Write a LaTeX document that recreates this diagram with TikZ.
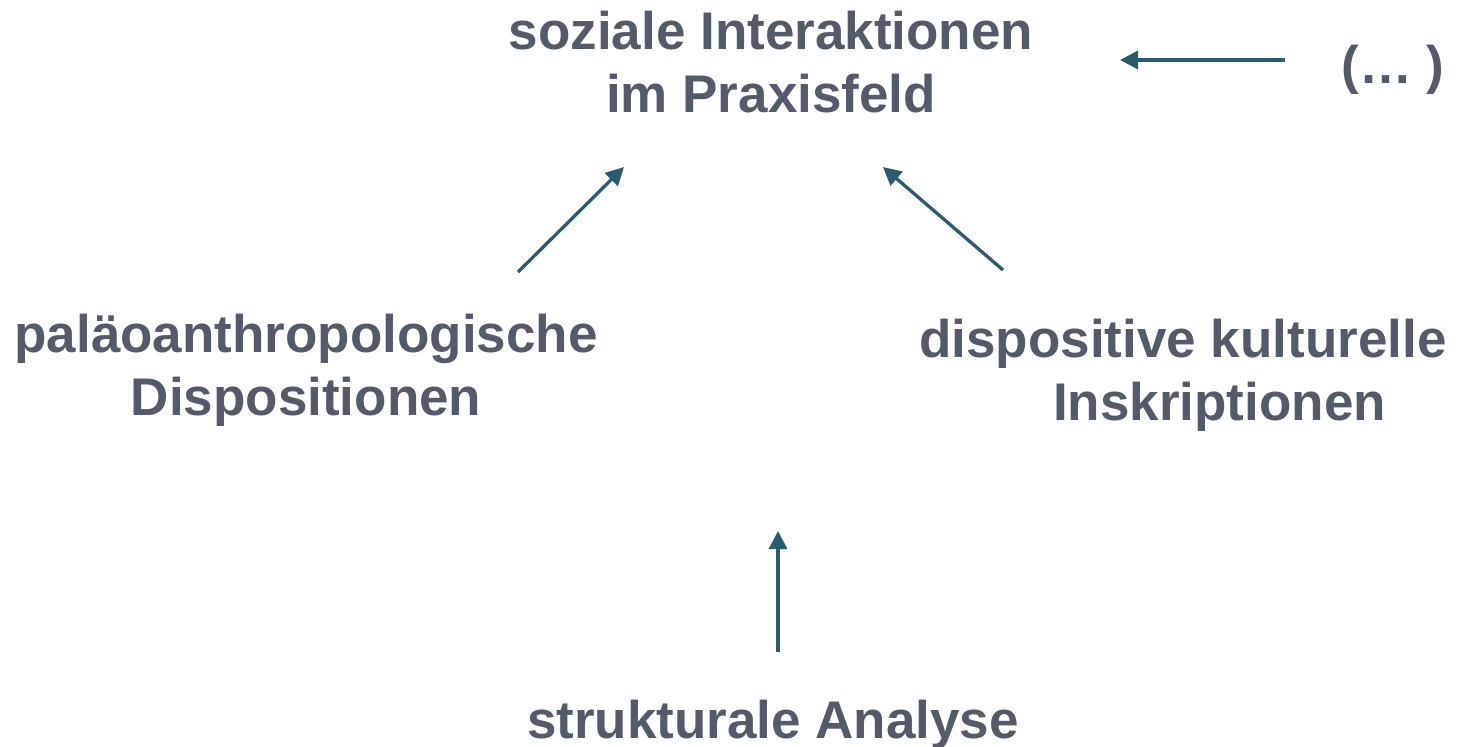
\documentclass[tikz,border=0pt]{standalone}
\usepackage{fontspec}
\setmainfont{Liberation Sans}
\usetikzlibrary{arrows.meta}
\definecolor{txt}{HTML}{535A6A}
\definecolor{arr}{HTML}{2B5B6F}
\begin{document}
\begin{tikzpicture}[x=1pt,y=-1pt,
  lbl/.style={inner sep=0pt, text=txt, align=center, anchor=base,
    font=\fontsize{53}{63}\selectfont\bfseries},
  conn/.style={draw=arr, line width=3.3pt, -{Triangle[length=18pt,width=18pt]}}]
\useasboundingbox (0,0) rectangle (1457,747);
\node[lbl] (top) at (771,112) {soziale Interaktionen\\im Praxisfeld};
\node[lbl] (etc) at (1393,83) {(\dots\ )};
\node[lbl] (left) at (306,415) {paläoanthropologische\\Dispositionen};
\node[lbl] (right) at (1183,420) {dispositive kulturelle\\\hspace*{73pt}Inskriptionen};
\node[lbl] (bottom) at (773,738) {strukturale Analyse};
\coordinate (e1) at (1285,60);
\coordinate (e1t) at (1120,60);
\coordinate (l1) at (518,272);
\coordinate (l1t) at (624,167);
\coordinate (r1) at (1003,270);
\coordinate (r1t) at (883,167);
\coordinate (b1) at (778,652);
\coordinate (b1t) at (778,531);
\draw[conn] (e1) -- (e1t);
\draw[conn] (l1) -- (l1t);
\draw[conn] (r1) -- (r1t);
\draw[conn] (b1) -- (b1t);
\end{tikzpicture}
\end{document}
